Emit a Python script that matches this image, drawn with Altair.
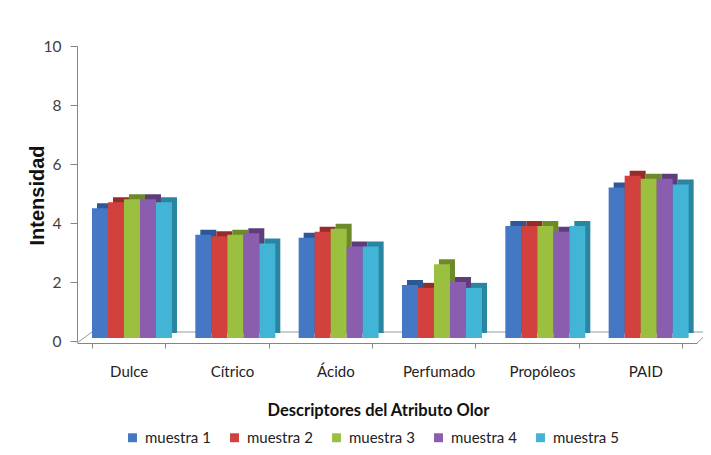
import altair as alt
import pandas as pd

categories = ["Dulce", "Cítrico", "Ácido", "Perfumado", "Propóleos", "PAID"]
series = ["muestra 1", "muestra 2", "muestra 3", "muestra 4", "muestra 5"]
m1 = [4.4, 3.5, 3.4, 1.8, 3.8, 5.1]
m2 = [4.6, 3.45, 3.6, 1.7, 3.8, 5.5]
m3 = [4.7, 3.5, 3.7, 2.5, 3.8, 5.4]
m4 = [4.7, 3.55, 3.1, 1.9, 3.6, 5.4]
m5 = [4.6, 3.2, 3.1, 1.7, 3.8, 5.2]
y_ticks = [0, 2, 4, 6, 8, 10]

front_colors = ["#4478C4", "#D2413E", "#9BC03F", "#8B5DAF", "#42B4D6"]
back_colors = ["#2C5896", "#962C29", "#6C8A2A", "#5E3D7C", "#2A85A0"]

rows = []
for s, vals in zip(series, [m1, m2, m3, m4, m5]):
    for c, v in zip(categories, vals):
        rows.append({"cat": c, "serie": s, "valor": v})
df = pd.DataFrame(rows)

FONT = "Lato"
W, H = 620, 295

x_enc = alt.X(
    "cat:N",
    sort=categories,
    scale=alt.Scale(paddingInner=0.29, paddingOuter=0.145),
    axis=alt.Axis(
        title="Descriptores del Atributo Olor",
        labelAngle=0,
        labelFontSize=15,
        labelColor="#222222",
        labelFont=FONT,
        labelPadding=16,
        tickBand="extent",
        tickSize=5,
        tickColor="#868686",
        domainColor="#868686",
        offset=2,
        titleFont=FONT,
        titleFontSize=16.5,
        titleFontWeight="bold",
        titleColor="#111111",
        titleX=301,
        titleY=67,
        titleBaseline="middle",
        grid=False,
    ),
)
y_enc = alt.Y(
    "valor:Q",
    scale=alt.Scale(domain=[0, 10], nice=False),
    axis=alt.Axis(
        title="Intensidad",
        values=y_ticks,
        labelFontSize=15.5,
        labelColor="#404040",
        labelFont=FONT,
        labelPadding=9,
        tickSize=7,
        tickColor="#868686",
        domainColor="#868686",
        titleFont="Liberation Sans",
        titleFontSize=20,
        titleFontWeight="bold",
        titleColor="#111111",
        titleAngle=-90,
        titleX=-40,
        titleY=149,
        titleAlign="center",
        titleBaseline="middle",
        grid=False,
    ),
)

back = alt.Chart(df).mark_bar(yOffset=-8, y2Offset=-8).encode(
    x=x_enc,
    y=y_enc,
    xOffset=alt.XOffset("serie:N", sort=series,
                        scale=alt.Scale(range=[5, 85], paddingInner=0, paddingOuter=0)),
    color=alt.Color("serie:N", sort=series,
                    scale=alt.Scale(domain=series, range=back_colors), legend=None),
)

front = alt.Chart(df).mark_bar(yOffset=-3, y2Offset=-3).encode(
    x=x_enc,
    y=y_enc,
    xOffset=alt.XOffset("serie:N", sort=series,
                        scale=alt.Scale(range=[0, 80], paddingInner=0, paddingOuter=0)),
    color=alt.Color(
        "serie:N",
        sort=series,
        scale=alt.Scale(domain=series, range=front_colors),
        legend=alt.Legend(
            title=None,
            orient="none",
            direction="horizontal",
            legendX=48,
            legendY=384,
            symbolType="square",
            symbolSize=80,
            symbolStrokeWidth=0,
            labelFont=FONT,
            labelFontSize=15,
            labelColor="#222222",
            labelOffset=5,
            columnPadding=16,
        ),
    ),
)

floor_back = alt.Chart(pd.DataFrame({"v": [0]})).mark_rule(color="#9a9a9a", strokeWidth=1).encode(
    x=alt.value(15), x2=alt.value(W + 12), y=alt.value(H - 9)
)
floor_left = alt.Chart(pd.DataFrame({"v": [0]})).mark_rule(color="#9a9a9a", strokeWidth=1).encode(
    x=alt.value(0), x2=alt.value(15), y=alt.value(H + 2), y2=alt.value(H - 9)
)
floor_right = alt.Chart(pd.DataFrame({"v": [0]})).mark_rule(color="#9a9a9a", strokeWidth=1).encode(
    x=alt.value(W), x2=alt.value(W + 12), y=alt.value(H + 2), y2=alt.value(H - 9)
)

chart = (
    alt.layer(floor_back, floor_left, floor_right, back, front)
    .resolve_scale(xOffset="independent", color="independent")
    .properties(
        width=W,
        height=H,
        autosize=alt.AutoSizeParams(type="none"),
        padding={"left": 69, "top": 38, "right": 6, "bottom": 104},
        background="white",
    )
    .configure_view(stroke=None)
)

chart.save("out.html", embed_options={"renderer": "svg", "actions": False})
